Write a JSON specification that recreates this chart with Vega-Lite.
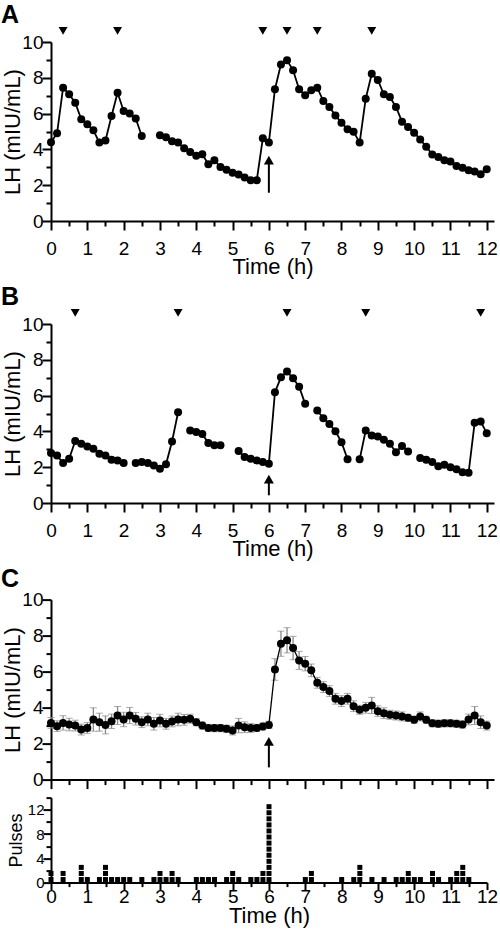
{
  "$schema": "https://vega.github.io/schema/vega-lite/v6.json",
  "background": "white",
  "autosize": {"type": "pad"},
  "padding": {"left": 1, "top": 3, "right": 0, "bottom": 2},
  "config": {
    "font": "Liberation Sans",
    "view": {"stroke": null},
    "axis": {
      "domainColor": "black", "domainWidth": 2, "tickColor": "black", "tickWidth": 2,
      "labelColor": "black", "titleColor": "black", "labelFont": "Liberation Sans", "titleFont": "Liberation Sans",
      "labelFontSize": 19, "titleFontSize": 22, "titleFontWeight": "normal", "grid": false,
      "labelFlush": false, "labelOverlap": false, "labelBound": false, "format": "d"
    },
    "title": {"anchor": "start", "frame": "group", "fontSize": 25, "fontWeight": "bold", "font": "Liberation Sans", "color": "black", "dx": -50, "offset": -1}
  },
  "datasets": {
    "lhA": [
      {"t":0,"lh":4.4},{"t":0.167,"lh":4.9},{"t":0.333,"lh":7.45},{"t":0.5,"lh":7.08},{"t":0.667,"lh":6.61},{"t":0.833,"lh":5.68},
      {"t":1,"lh":5.4},{"t":1.167,"lh":5.07},{"t":1.333,"lh":4.38},{"t":1.5,"lh":4.5},{"t":1.667,"lh":5.87},{"t":1.833,"lh":7.17},
      {"t":2,"lh":6.15},{"t":2.167,"lh":6.0},{"t":2.333,"lh":5.73},{"t":2.5,"lh":4.75},{"t":2.667,"lh":null},{"t":2.833,"lh":null},
      {"t":3,"lh":4.79},{"t":3.167,"lh":4.68},{"t":3.333,"lh":4.45},{"t":3.5,"lh":4.38},{"t":3.667,"lh":4.06},{"t":3.833,"lh":3.86},
      {"t":4,"lh":3.64},{"t":4.167,"lh":3.73},{"t":4.333,"lh":3.17},{"t":4.5,"lh":3.4},{"t":4.667,"lh":3.02},{"t":4.833,"lh":2.86},
      {"t":5,"lh":2.69},{"t":5.167,"lh":2.6},{"t":5.333,"lh":2.43},{"t":5.5,"lh":2.28},{"t":5.667,"lh":2.28},{"t":5.833,"lh":4.62},
      {"t":6,"lh":4.38},{"t":6.167,"lh":7.36},{"t":6.333,"lh":8.75},{"t":6.5,"lh":8.98},{"t":6.667,"lh":8.42},{"t":6.833,"lh":7.36},
      {"t":7,"lh":7.02},{"t":7.167,"lh":7.3},{"t":7.333,"lh":7.45},{"t":7.5,"lh":6.7},{"t":7.667,"lh":6.37},{"t":7.833,"lh":5.9},
      {"t":8,"lh":5.49},{"t":8.167,"lh":5.12},{"t":8.333,"lh":4.99},{"t":8.5,"lh":4.38},{"t":8.667,"lh":6.83},{"t":8.833,"lh":8.23},
      {"t":9,"lh":7.88},{"t":9.167,"lh":7.08},{"t":9.333,"lh":6.93},{"t":9.5,"lh":6.37},{"t":9.667,"lh":5.55},{"t":9.833,"lh":5.25},
      {"t":10,"lh":4.93},{"t":10.167,"lh":4.56},{"t":10.333,"lh":4.15},{"t":10.5,"lh":3.72},{"t":10.667,"lh":3.58},{"t":10.833,"lh":3.39},
      {"t":11,"lh":3.32},{"t":11.167,"lh":3.07},{"t":11.333,"lh":2.98},{"t":11.5,"lh":2.83},{"t":11.667,"lh":2.76},{"t":11.833,"lh":2.61},
      {"t":12,"lh":2.89}
    ],
    "lhB": [
      {"t":0,"lh":2.79},{"t":0.167,"lh":2.66},{"t":0.333,"lh":2.23},{"t":0.5,"lh":2.47},{"t":0.667,"lh":3.46},{"t":0.833,"lh":3.31},
      {"t":1,"lh":3.16},{"t":1.167,"lh":3.03},{"t":1.333,"lh":2.75},{"t":1.5,"lh":2.66},{"t":1.667,"lh":2.42},{"t":1.833,"lh":2.38},
      {"t":2,"lh":2.23},{"t":2.167,"lh":null},{"t":2.333,"lh":2.23},{"t":2.5,"lh":2.29},{"t":2.667,"lh":2.23},{"t":2.833,"lh":2.1},
      {"t":3,"lh":1.92},{"t":3.167,"lh":2.16},{"t":3.333,"lh":3.44},{"t":3.5,"lh":5.07},{"t":3.667,"lh":null},{"t":3.833,"lh":4.05},
      {"t":4,"lh":3.96},{"t":4.167,"lh":3.86},{"t":4.333,"lh":3.35},{"t":4.5,"lh":3.22},{"t":4.667,"lh":3.22},{"t":4.833,"lh":null},
      {"t":5,"lh":null},{"t":5.167,"lh":2.9},{"t":5.333,"lh":2.57},{"t":5.5,"lh":2.47},{"t":5.667,"lh":2.38},{"t":5.833,"lh":2.29},
      {"t":6,"lh":2.19},{"t":6.167,"lh":6.19},{"t":6.333,"lh":7.02},{"t":6.5,"lh":7.34},{"t":6.667,"lh":6.97},{"t":6.833,"lh":6.5},
      {"t":7,"lh":5.54},{"t":7.167,"lh":null},{"t":7.333,"lh":5.17},{"t":7.5,"lh":4.74},{"t":7.667,"lh":4.42},{"t":7.833,"lh":4.01},
      {"t":8,"lh":3.4},{"t":8.167,"lh":2.44},{"t":8.333,"lh":null},{"t":8.5,"lh":2.44},{"t":8.667,"lh":4.05},{"t":8.833,"lh":3.77},
      {"t":9,"lh":3.71},{"t":9.167,"lh":3.53},{"t":9.333,"lh":3.31},{"t":9.5,"lh":2.84},{"t":9.667,"lh":3.18},{"t":9.833,"lh":2.88},
      {"t":10,"lh":null},{"t":10.167,"lh":2.51},{"t":10.333,"lh":2.42},{"t":10.5,"lh":2.29},{"t":10.667,"lh":2.05},{"t":10.833,"lh":2.14},
      {"t":11,"lh":2.0},{"t":11.167,"lh":1.88},{"t":11.333,"lh":1.72},{"t":11.5,"lh":1.69},{"t":11.667,"lh":4.48},{"t":11.833,"lh":4.55},
      {"t":12,"lh":3.9}
    ],
    "lhC": [
      {"t":0,"m":3.15,"sem":0.3},{"t":0.167,"m":2.97,"sem":0.3},{"t":0.333,"m":3.15,"sem":0.4},{"t":0.5,"m":3.06,"sem":0.35},{"t":0.667,"m":3.0,"sem":0.3},{"t":0.833,"m":2.78,"sem":0.3},
      {"t":1,"m":2.87,"sem":0.3},{"t":1.167,"m":3.34,"sem":0.65},{"t":1.333,"m":3.19,"sem":0.5},{"t":1.5,"m":3.04,"sem":0.5},{"t":1.667,"m":3.24,"sem":0.4},{"t":1.833,"m":3.56,"sem":0.5},
      {"t":2,"m":3.34,"sem":0.4},{"t":2.167,"m":3.56,"sem":0.45},{"t":2.333,"m":3.38,"sem":0.35},{"t":2.5,"m":3.19,"sem":0.3},{"t":2.667,"m":3.34,"sem":0.35},{"t":2.833,"m":3.1,"sem":0.35},
      {"t":3,"m":3.28,"sem":0.35},{"t":3.167,"m":3.1,"sem":0.3},{"t":3.333,"m":3.23,"sem":0.3},{"t":3.5,"m":3.34,"sem":0.35},{"t":3.667,"m":3.32,"sem":0.3},{"t":3.833,"m":3.38,"sem":0.25},
      {"t":4,"m":3.19,"sem":0.2},{"t":4.167,"m":3.0,"sem":0.2},{"t":4.333,"m":2.87,"sem":0.2},{"t":4.5,"m":2.86,"sem":0.2},{"t":4.667,"m":2.86,"sem":0.2},{"t":4.833,"m":2.82,"sem":0.2},
      {"t":5,"m":2.73,"sem":0.25},{"t":5.167,"m":3.0,"sem":0.4},{"t":5.333,"m":2.91,"sem":0.3},{"t":5.5,"m":2.87,"sem":0.25},{"t":5.667,"m":2.87,"sem":0.2},{"t":5.833,"m":2.95,"sem":0.2},
      {"t":6,"m":3.04,"sem":0.2},{"t":6.167,"m":6.12,"sem":0.6},{"t":6.333,"m":7.55,"sem":0.7},{"t":6.5,"m":7.74,"sem":0.7},{"t":6.667,"m":7.31,"sem":0.65},{"t":6.833,"m":6.62,"sem":0.5},
      {"t":7,"m":6.44,"sem":0.4},{"t":7.167,"m":6.07,"sem":0.35},{"t":7.333,"m":5.38,"sem":0.3},{"t":7.5,"m":5.14,"sem":0.3},{"t":7.667,"m":4.92,"sem":0.3},{"t":7.833,"m":4.49,"sem":0.3},
      {"t":8,"m":4.36,"sem":0.3},{"t":8.167,"m":4.49,"sem":0.3},{"t":8.333,"m":4.08,"sem":0.3},{"t":8.5,"m":3.88,"sem":0.25},{"t":8.667,"m":3.99,"sem":0.3},{"t":8.833,"m":4.12,"sem":0.45},
      {"t":9,"m":3.8,"sem":0.3},{"t":9.167,"m":3.69,"sem":0.3},{"t":9.333,"m":3.6,"sem":0.25},{"t":9.5,"m":3.56,"sem":0.25},{"t":9.667,"m":3.51,"sem":0.25},{"t":9.833,"m":3.43,"sem":0.2},
      {"t":10,"m":3.32,"sem":0.2},{"t":10.167,"m":3.51,"sem":0.25},{"t":10.333,"m":3.32,"sem":0.2},{"t":10.5,"m":3.13,"sem":0.2},{"t":10.667,"m":3.1,"sem":0.2},{"t":10.833,"m":3.13,"sem":0.2},
      {"t":11,"m":3.13,"sem":0.2},{"t":11.167,"m":3.1,"sem":0.2},{"t":11.333,"m":3.06,"sem":0.2},{"t":11.5,"m":3.34,"sem":0.3},{"t":11.667,"m":3.56,"sem":0.5},{"t":11.833,"m":3.19,"sem":0.35},
      {"t":12,"m":3.0,"sem":0.25}
    ],
    "pulsesA": [{"t":0.333},{"t":1.833},{"t":5.833},{"t":6.5},{"t":7.333},{"t":8.833}],
    "pulsesB": [{"t":0.667},{"t":3.5},{"t":6.5},{"t":8.667},{"t":11.833}],
    "infusion": [{"t":6}],
    "squares": [
      {"t":0,"k":1},{"t":0,"k":2},{"t":0.333,"k":1},{"t":0.333,"k":2},{"t":0.833,"k":1},{"t":0.833,"k":2},{"t":0.833,"k":3},
      {"t":1,"k":1},{"t":1.333,"k":1},{"t":1.5,"k":1},{"t":1.5,"k":2},{"t":1.5,"k":3},{"t":1.667,"k":1},{"t":1.833,"k":1},
      {"t":2,"k":1},{"t":2.167,"k":1},{"t":2.5,"k":1},{"t":2.833,"k":1},{"t":3,"k":1},{"t":3,"k":2},{"t":3.167,"k":1},
      {"t":3.333,"k":1},{"t":3.333,"k":2},{"t":3.5,"k":1},{"t":4,"k":1},{"t":4.167,"k":1},{"t":4.333,"k":1},{"t":4.5,"k":1},
      {"t":4.833,"k":1},{"t":5,"k":1},{"t":5,"k":2},{"t":5.167,"k":1},{"t":5.5,"k":1},{"t":5.667,"k":1},{"t":5.833,"k":1},{"t":5.833,"k":2},
      {"t":6,"k":1},{"t":6,"k":2},{"t":6,"k":3},{"t":6,"k":4},{"t":6,"k":5},{"t":6,"k":6},{"t":6,"k":7},{"t":6,"k":8},{"t":6,"k":9},
      {"t":6,"k":10},{"t":6,"k":11},{"t":6,"k":12},{"t":6,"k":13},
      {"t":7,"k":1},{"t":7.167,"k":1},{"t":7.167,"k":2},{"t":8,"k":1},{"t":8.333,"k":1},{"t":8.5,"k":1},{"t":8.5,"k":2},{"t":8.5,"k":3},
      {"t":8.833,"k":1},{"t":9.167,"k":1},{"t":9.5,"k":1},{"t":9.667,"k":1},{"t":9.833,"k":1},{"t":9.833,"k":2},{"t":10,"k":1},
      {"t":10.167,"k":1},{"t":10.5,"k":1},{"t":10.5,"k":2},{"t":10.667,"k":1},{"t":11,"k":1},{"t":11.167,"k":1},{"t":11.167,"k":2},
      {"t":11.333,"k":1},{"t":11.333,"k":2},{"t":11.333,"k":3},{"t":11.5,"k":1}
    ]
  },
  "spacing": 103,
  "bounds": "flush",
  "vconcat": [
    {
      "width": 443, "height": 179,
      "title": {"text": "A"},
      "resolve": {"axis": {"x": "independent", "y": "independent"}},
      "layer": [
        {"data": {"name": "lhA"}, "mark": {"type": "line", "color": "black", "strokeWidth": 1.8},
         "encoding": {
           "x": {"field": "t", "type": "quantitative", "scale": {"domain": [0, 12.2], "nice": false, "zero": false},
                 "axis": {"orient": "bottom", "values": [0,1,2,3,4,5,6,7,8,9,10,11,12], "tickSize": 9, "labelPadding": 9, "title": "Time (h)", "titlePadding": -2}},
           "y": {"field": "lh", "type": "quantitative", "scale": {"domain": [0, 10], "nice": false, "zero": false},
                 "axis": {"orient": "left", "values": [0,2,4,6,8,10], "tickSize": 9, "labelPadding": -1, "title": "LH (mIU/mL)", "titlePadding": -2.5}}
         }},
        {"data": {"name": "lhA"}, "mark": {"type": "circle", "color": "black", "size": 64, "opacity": 1},
         "encoding": {
           "x": {"field": "t", "type": "quantitative", "scale": {"domain": [0, 12.2], "nice": false, "zero": false},
                 "axis": {"orient": "bottom", "values": [0.5,1.5,2.5,3.5,4.5,5.5,6.5,7.5,8.5,9.5,10.5,11.5], "tickSize": 5, "labels": false, "domain": false, "title": null}},
           "y": {"field": "lh", "type": "quantitative", "scale": {"domain": [0, 10], "nice": false, "zero": false},
                 "axis": {"orient": "left", "values": [1,3,5,7,9], "tickSize": 5, "labels": false, "domain": false, "title": null}}
         }},
        {"data": {"name": "pulsesA"}, "mark": {"type": "point", "shape": "triangle-down", "filled": true, "color": "black", "size": 80, "opacity": 1},
         "encoding": {
           "x": {"field": "t", "type": "quantitative", "scale": {"domain": [0, 12.2], "nice": false, "zero": false}, "axis": null},
           "y": {"datum": 10.62, "type": "quantitative", "scale": {"domain": [0, 10], "nice": false, "zero": false}, "axis": null}
         }},
        {"data": {"name": "infusion"}, "mark": {"type": "rule", "color": "black", "strokeWidth": 2},
         "encoding": {
           "x": {"field": "t", "type": "quantitative", "scale": {"domain": [0, 12.2], "nice": false, "zero": false}, "axis": null},
           "y": {"datum": 1.58, "type": "quantitative", "scale": {"domain": [0, 10], "nice": false, "zero": false}, "axis": null},
           "y2": {"datum": 3.25}
         }},
        {"data": {"name": "infusion"}, "mark": {"type": "point", "shape": "triangle-up", "filled": true, "color": "black", "size": 100, "opacity": 1},
         "encoding": {
           "x": {"field": "t", "type": "quantitative", "scale": {"domain": [0, 12.2], "nice": false, "zero": false}, "axis": null},
           "y": {"datum": 3.4, "type": "quantitative", "scale": {"domain": [0, 10], "nice": false, "zero": false}, "axis": null}
         }}
      ]
    },
    {
      "spacing": 96.6,
      "bounds": "flush",
      "vconcat": [
        {
          "width": 443, "height": 179,
          "title": {"text": "B"},
          "resolve": {"axis": {"x": "independent", "y": "independent"}},
          "layer": [
            {"data": {"name": "lhB"}, "mark": {"type": "line", "color": "black", "strokeWidth": 1.8},
             "encoding": {
               "x": {"field": "t", "type": "quantitative", "scale": {"domain": [0, 12.2], "nice": false, "zero": false},
                     "axis": {"orient": "bottom", "values": [0,1,2,3,4,5,6,7,8,9,10,11,12], "tickSize": 9, "labelPadding": 9, "title": "Time (h)", "titlePadding": -2}},
               "y": {"field": "lh", "type": "quantitative", "scale": {"domain": [0, 10], "nice": false, "zero": false},
                     "axis": {"orient": "left", "values": [0,2,4,6,8,10], "tickSize": 9, "labelPadding": -1, "title": "LH (mIU/mL)", "titlePadding": -2.5}}
             }},
            {"data": {"name": "lhB"}, "mark": {"type": "circle", "color": "black", "size": 64, "opacity": 1},
             "encoding": {
               "x": {"field": "t", "type": "quantitative", "scale": {"domain": [0, 12.2], "nice": false, "zero": false},
                     "axis": {"orient": "bottom", "values": [0.5,1.5,2.5,3.5,4.5,5.5,6.5,7.5,8.5,9.5,10.5,11.5], "tickSize": 5, "labels": false, "domain": false, "title": null}},
               "y": {"field": "lh", "type": "quantitative", "scale": {"domain": [0, 10], "nice": false, "zero": false},
                     "axis": {"orient": "left", "values": [1,3,5,7,9], "tickSize": 5, "labels": false, "domain": false, "title": null}}
             }},
            {"data": {"name": "pulsesB"}, "mark": {"type": "point", "shape": "triangle-down", "filled": true, "color": "black", "size": 80, "opacity": 1},
             "encoding": {
               "x": {"field": "t", "type": "quantitative", "scale": {"domain": [0, 12.2], "nice": false, "zero": false}, "axis": null},
               "y": {"datum": 10.62, "type": "quantitative", "scale": {"domain": [0, 10], "nice": false, "zero": false}, "axis": null}
             }},
            {"data": {"name": "infusion"}, "mark": {"type": "rule", "color": "black", "strokeWidth": 2},
             "encoding": {
               "x": {"field": "t", "type": "quantitative", "scale": {"domain": [0, 12.2], "nice": false, "zero": false}, "axis": null},
               "y": {"datum": 0.43, "type": "quantitative", "scale": {"domain": [0, 10], "nice": false, "zero": false}, "axis": null},
               "y2": {"datum": 1.15}
             }},
            {"data": {"name": "infusion"}, "mark": {"type": "point", "shape": "triangle-up", "filled": true, "color": "black", "size": 100, "opacity": 1},
             "encoding": {
               "x": {"field": "t", "type": "quantitative", "scale": {"domain": [0, 12.2], "nice": false, "zero": false}, "axis": null},
               "y": {"datum": 1.33, "type": "quantitative", "scale": {"domain": [0, 10], "nice": false, "zero": false}, "axis": null}
             }}
          ]
        },
        {
          "spacing": 18,
          "bounds": "flush",
          "vconcat": [
            {
              "width": 443, "height": 180,
              "title": {"text": "C"},
              "resolve": {"axis": {"x": "independent", "y": "independent"}},
              "layer": [
                {"data": {"name": "lhC"}, "mark": {"type": "errorbar", "color": "#888888", "ticks": {"size": 7, "color": "#888888", "strokeWidth": 1.3}, "rule": {"color": "#888888", "strokeWidth": 1.3}},
                 "encoding": {
                   "x": {"field": "t", "type": "quantitative", "scale": {"domain": [0, 12.2], "nice": false, "zero": false}, "axis": null},
                   "y": {"field": "m", "type": "quantitative", "scale": {"domain": [0, 10], "nice": false, "zero": false}, "axis": null},
                   "yError": {"field": "sem"}
                 }},
                {"data": {"name": "lhC"}, "mark": {"type": "line", "color": "black", "strokeWidth": 1.3},
                 "encoding": {
                   "x": {"field": "t", "type": "quantitative", "scale": {"domain": [0, 12.2], "nice": false, "zero": false},
                         "axis": {"orient": "bottom", "values": [0,1,2,3,4,5,6,7,8,9,10,11,12], "tickSize": 9, "labels": false, "title": null}},
                   "y": {"field": "m", "type": "quantitative", "scale": {"domain": [0, 10], "nice": false, "zero": false},
                         "axis": {"orient": "left", "values": [0,2,4,6,8,10], "tickSize": 9, "labelPadding": -1, "title": "LH (mIU/mL)", "titlePadding": -2.5}}
                 }},
                {"data": {"name": "lhC"}, "mark": {"type": "circle", "color": "black", "size": 64, "opacity": 1},
                 "encoding": {
                   "x": {"field": "t", "type": "quantitative", "scale": {"domain": [0, 12.2], "nice": false, "zero": false},
                         "axis": {"orient": "bottom", "values": [0.5,1.5,2.5,3.5,4.5,5.5,6.5,7.5,8.5,9.5,10.5,11.5], "tickSize": 5, "labels": false, "domain": false, "title": null}},
                   "y": {"field": "m", "type": "quantitative", "scale": {"domain": [0, 10], "nice": false, "zero": false},
                         "axis": {"orient": "left", "values": [1,3,5,7,9], "tickSize": 5, "labels": false, "domain": false, "title": null}}
                 }},
                {"data": {"name": "infusion"}, "mark": {"type": "rule", "color": "black", "strokeWidth": 2},
                 "encoding": {
                   "x": {"field": "t", "type": "quantitative", "scale": {"domain": [0, 12.2], "nice": false, "zero": false}, "axis": null},
                   "y": {"datum": 0.68, "type": "quantitative", "scale": {"domain": [0, 10], "nice": false, "zero": false}, "axis": null},
                   "y2": {"datum": 1.95}
                 }},
                {"data": {"name": "infusion"}, "mark": {"type": "point", "shape": "triangle-up", "filled": true, "color": "black", "size": 100, "opacity": 1},
                 "encoding": {
                   "x": {"field": "t", "type": "quantitative", "scale": {"domain": [0, 12.2], "nice": false, "zero": false}, "axis": null},
                   "y": {"datum": 2.12, "type": "quantitative", "scale": {"domain": [0, 10], "nice": false, "zero": false}, "axis": null}
                 }}
              ]
            },
            {
              "width": 436, "height": 85,
              "resolve": {"axis": {"x": "independent", "y": "independent"}},
              "layer": [
                {"data": {"name": "squares"},
                 "mark": {"type": "square", "color": "black", "size": 25, "opacity": 1, "yOffset": 3},
                 "encoding": {
                   "x": {"field": "t", "type": "quantitative", "scale": {"domain": [0, 12], "nice": false, "zero": false},
                         "axis": {"orient": "bottom", "values": [0,1,2,3,4,5,6,7,8,9,10,11,12], "tickSize": 7, "labelPadding": -2, "title": "Time (h)", "titlePadding": -1}},
                   "y": {"field": "k", "type": "quantitative", "scale": {"domain": [0, 14], "nice": false, "zero": false},
                         "axis": {"orient": "left", "values": [0,4,8,12], "tickSize": 8, "labelPadding": -1, "labelFontSize": 15, "title": "Pulses", "titleFontSize": 18, "titlePadding": 2}}
                 }},
                {"data": {"name": "squares"},
                 "mark": {"type": "square", "color": "black", "size": 25, "opacity": 0, "yOffset": 3},
                 "encoding": {
                   "x": {"field": "t", "type": "quantitative", "scale": {"domain": [0, 12], "nice": false, "zero": false},
                         "axis": {"orient": "bottom", "values": [0.5,1.5,2.5,3.5,4.5,5.5,6.5,7.5,8.5,9.5,10.5,11.5], "tickSize": 4, "labels": false, "domain": false, "title": null}},
                   "y": {"field": "k", "type": "quantitative", "scale": {"domain": [0, 14], "nice": false, "zero": false},
                         "axis": {"orient": "left", "values": [2,6,10,14], "tickSize": 5, "labels": false, "domain": false, "title": null}}
                 }}
              ]
            }
          ]
        }
      ]
    }
  ]
}
